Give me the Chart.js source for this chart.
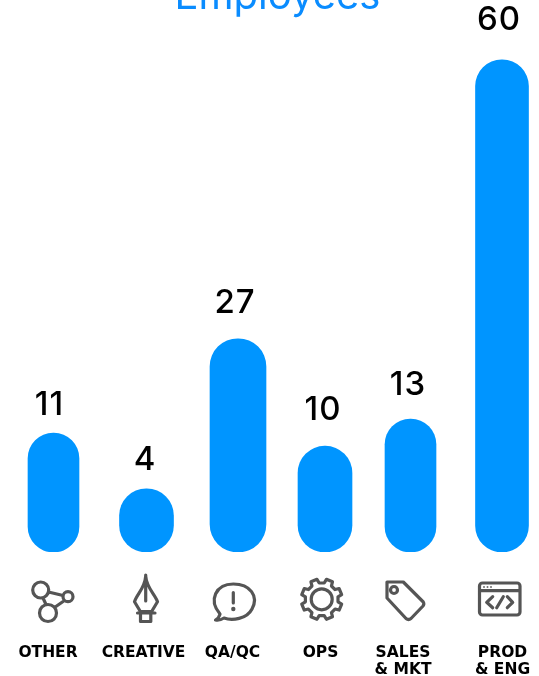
<!DOCTYPE html>
<html>
<head>
<meta charset="utf-8">
<script src="https://cdn.jsdelivr.net/npm/chart.js@4/dist/chart.umd.min.js"></script>
<style>
  html, body { margin: 0; background: #fff; }
  canvas { display: block; }
</style>
</head>
<body>
<canvas id="employeesChart" width="539" height="676"></canvas>
<script>
// Donnees
const categories = [['OTHER'], ['CREATIVE'], ['QA/QC'], ['OPS'], ['SALES', '& MKT'], ['PROD', '& ENG']];
const employees = [11, 4, 27, 10, 13, 60];
// la hauteur dessinee n'est pas proportionnelle au chiffre affiche sur l'original
const barLengths = [14.5, 7.7, 26, 12.9, 16.2, 60];

// Mise en page (pixels de l'original)
const barCenters = [53.5, 146.5, 238, 325, 410.5, 502];
const barWidths = [51, 54, 56, 54, 51, 53];
const labelCenters = [48, 143.5, 232.5, 320.5, 403, 502.5];
const valueOffsetsX = [-4, -1.5, -3, -2, -2.5, -3];
const valueGaps = [11, 12, 19, 20, 18, 23];

const iconColor = '#555555';

function drawIcons(ctx) {
  ctx.save();
  ctx.strokeStyle = iconColor;
  ctx.fillStyle = iconColor;
  ctx.lineWidth = 3.2;
  ctx.lineJoin = 'round';
  ctx.lineCap = 'round';

  // OTHER
  ctx.beginPath();
  ctx.arc(40.7, 590, 8, 0, Math.PI * 2);
  ctx.moveTo(73, 596.7);
  ctx.arc(68, 596.7, 5, 0, Math.PI * 2);
  ctx.moveTo(56.5, 613);
  ctx.arc(48, 613, 8.5, 0, Math.PI * 2);
  ctx.moveTo(48.5, 592);
  ctx.lineTo(63, 595.5);
  ctx.moveTo(43, 598);
  ctx.lineTo(46, 604.5);
  ctx.moveTo(64.5, 600.5);
  ctx.lineTo(54.5, 607.5);
  ctx.stroke();

  // CREATIVE
  ctx.beginPath();
  ctx.moveTo(145.7, 575);
  ctx.lineTo(145.7, 601);
  ctx.moveTo(145.7, 576);
  ctx.bezierCurveTo(145, 588, 137, 594, 134.5, 601.7);
  ctx.lineTo(140.5, 611.7);
  ctx.lineTo(151.5, 611.7);
  ctx.lineTo(157.5, 601.7);
  ctx.bezierCurveTo(155, 594, 146.5, 588, 145.7, 576);
  ctx.moveTo(137.5, 613);
  ctx.lineTo(155, 613);
  ctx.moveTo(140.5, 613);
  ctx.lineTo(140.5, 621.5);
  ctx.lineTo(150.8, 621.5);
  ctx.lineTo(150.8, 613);
  ctx.stroke();

  // QA/QC
  ctx.beginPath();
  ctx.moveTo(220, 614);
  ctx.bezierCurveTo(208, 600, 216, 584, 233.3, 584);
  ctx.bezierCurveTo(250, 584, 259, 596, 252, 609);
  ctx.bezierCurveTo(247, 619, 232, 621, 224, 618);
  ctx.bezierCurveTo(221, 620, 218, 620.5, 215.5, 620);
  ctx.bezierCurveTo(218, 618.5, 219.5, 616.5, 220, 614);
  ctx.moveTo(233.3, 592.5);
  ctx.lineTo(233.3, 603);
  ctx.stroke();
  ctx.beginPath();
  ctx.arc(233.3, 609, 2.2, 0, Math.PI * 2);
  ctx.fill();

  // OPS
  const gearX = 321.7, gearY = 599.3;
  ctx.beginPath();
  for (let i = 0; i < 8; i++) {
    const a = i * Math.PI / 4 + Math.PI / 8;
    const pts = [[a - 0.24, 16.5], [a - 0.16, 20.5], [a + 0.16, 20.5], [a + 0.24, 16.5]];
    pts.forEach((p, j) => {
      const x = gearX + Math.cos(p[0]) * p[1];
      const y = gearY + Math.sin(p[0]) * p[1];
      if (i === 0 && j === 0) ctx.moveTo(x, y);
      else ctx.lineTo(x, y);
    });
  }
  ctx.closePath();
  ctx.moveTo(gearX + 10.5, gearY);
  ctx.arc(gearX, gearY, 10.5, 0, Math.PI * 2);
  ctx.stroke();

  // SALES & MKT
  ctx.beginPath();
  ctx.moveTo(387, 582);
  ctx.lineTo(403.3, 582);
  ctx.lineTo(423.3, 602);
  ctx.quadraticCurveTo(424.5, 604, 423, 606);
  ctx.lineTo(411, 618.5);
  ctx.quadraticCurveTo(408.5, 620.5, 406, 618.5);
  ctx.lineTo(387, 598);
  ctx.closePath();
  ctx.moveTo(397.5, 590);
  ctx.arc(394, 590, 3.5, 0, Math.PI * 2);
  ctx.stroke();

  // PROD & ENG
  ctx.beginPath();
  ctx.roundRect(479.5, 583, 40.5, 32, 3);
  ctx.moveTo(479.5, 590.7);
  ctx.lineTo(520, 590.7);
  ctx.moveTo(492.7, 596.7);
  ctx.lineTo(486.7, 602.3);
  ctx.lineTo(492.7, 607.7);
  ctx.moveTo(507.3, 596.7);
  ctx.lineTo(512.7, 602.3);
  ctx.lineTo(507.3, 607.7);
  ctx.moveTo(503.3, 596.7);
  ctx.lineTo(496.7, 607.7);
  ctx.stroke();
  [484, 487.5, 491].forEach(x => {
    ctx.fillRect(x - 0.8, 586.2, 1.6, 1.6);
  });
  ctx.restore();
}

const iconsAndValues = {
  id: 'iconsAndValues',
  afterDatasetsDraw(chart) {
    const ctx = chart.ctx;
    drawIcons(ctx);
    ctx.save();
    ctx.fillStyle = '#000';
    ctx.font = '500 33px Inter';
    ctx.letterSpacing = '1px';
    ctx.textAlign = 'center';
    ctx.textBaseline = 'bottom';
    employees.forEach((value, i) => {
      const bar = chart.getDatasetMeta(i).data[0];
      ctx.fillText(String(value), bar.x + valueOffsetsX[i], bar.y - valueGaps[i]);
    });
    ctx.restore();
  }
};

new Chart(document.getElementById('employeesChart'), {
  type: 'bar',
  data: {
    datasets: barLengths.map((length, i) => ({
      label: categories[i].join(' '),
      data: [{ x: barCenters[i], y: length }],
      barThickness: barWidths[i],
      backgroundColor: '#0095ff',
      borderRadius: 100,
      borderSkipped: false,
      grouped: false,
    }))
  },
  plugins: [iconsAndValues],
  options: {
    responsive: false,
    animation: false,
    // 16px a gauche pour decaler le titre comme sur l'original
    layout: { padding: { left: 16 } },
    plugins: {
      legend: { display: false },
      tooltip: { enabled: false },
      title: {
        display: true,
        text: 'Employees',
        color: '#0a8cff',
        font: { family: 'Inter', size: 40, weight: 'normal', lineHeight: 1.2 },
        padding: { top: -27.4, bottom: -20.6 },
      },
    },
    scales: {
      x: {
        type: 'linear',
        offset: false,
        min: 16,
        max: 539,
        grid: { display: false, tickLength: 92 },
        border: { display: false },
        afterBuildTicks(axis) {
          axis.ticks = labelCenters.map(value => ({ value }));
        },
        afterFit(axis) {
          axis.height = 124;
        },
        ticks: {
          autoSkip: false,
          maxRotation: 0,
          minRotation: 0,
          padding: 0,
          color: '#000',
          font: { family: 'DejaVu Sans', size: 15.5, weight: 'bold', lineHeight: 1.1 },
          callback(value) {
            return categories[labelCenters.indexOf(value)];
          },
        },
      },
      y: {
        display: false,
        min: 0,
        max: 67.3,
      },
    },
  },
});
</script>
</body>
</html>
